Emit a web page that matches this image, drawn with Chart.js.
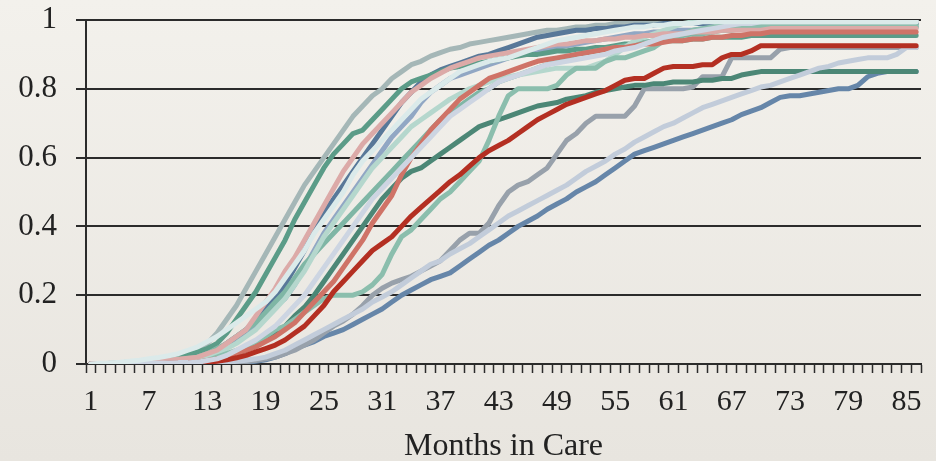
<!DOCTYPE html>
<html>
<head>
<meta charset="utf-8">
<script src="https://cdn.jsdelivr.net/npm/chart.js@4.4.1/dist/chart.umd.min.js"></script>
<style>
html, body { margin: 0; padding: 0; }
body { width: 936px; height: 461px; overflow: hidden; background: linear-gradient(#f3f1ec, #e8e5df); }
#wrap { position: relative; width: 936px; height: 461px; }
</style>
</head>
<body>
<div id="wrap"><canvas id="care"></canvas></div>
<script>
// months in care, one category per month
const months = [1,2,3,4,5,6,7,8,9,10,11,12,13,14,15,16,17,18,19,20,
  21,22,23,24,25,26,27,28,29,30,31,32,33,34,35,36,37,38,39,40,
  41,42,43,44,45,46,47,48,49,50,51,52,53,54,55,56,57,58,59,60,
  61,62,63,64,65,66,67,68,69,70,71,72,73,74,75,76,77,78,79,80,
  81,82,83,84,85,86];
const shownTicks = [1,7,13,19,25,31,37,43,49,55,61,67,73,79,85];
const yTicks = [0, 0.2, 0.4, 0.6, 0.8, 1];
const yTickLabels = ['0', '0.2', '0.4', '0.6', '0.8', '1'];

const lightCyan = [0,0.002,0.003,0.005,0.008,0.011,0.015,0.019,0.024,0.03,
  0.04,0.05,0.065,0.08,0.1,0.12,0.14,0.16,0.18,0.21,
  0.25,0.29,0.33,0.38,0.42,0.46,0.5,0.55,0.59,0.62,
  0.65,0.68,0.71,0.74,0.77,0.79,0.81,0.83,0.85,0.86,
  0.87,0.88,0.885,0.89,0.9,0.91,0.92,0.93,0.94,0.945,
  0.95,0.955,0.96,0.965,0.97,0.975,0.98,0.98,0.985,0.985,
  0.99,0.99,0.99,0.995,0.995,0.995,0.995,0.995,0.995,0.995,
  0.995,0.995,0.995,0.995,0.995,0.995,0.995,0.995,0.995,0.995,
  0.995,0.995,0.995,0.995,0.995,0.995];
const paleBlue = [0,0,0,0,0.001,0.001,0.002,0.003,0.003,0.004,
  0.004,0.005,0.01,0.015,0.025,0.04,0.055,0.07,0.09,0.11,
  0.14,0.17,0.2,0.24,0.28,0.32,0.36,0.4,0.44,0.48,
  0.51,0.54,0.57,0.6,0.63,0.66,0.69,0.72,0.74,0.76,
  0.78,0.8,0.82,0.83,0.84,0.85,0.86,0.87,0.875,0.88,
  0.885,0.89,0.895,0.9,0.91,0.915,0.92,0.93,0.94,0.95,
  0.955,0.96,0.965,0.97,0.975,0.98,0.985,0.99,0.99,0.995,
  0.995,0.995,0.995,0.995,0.995,0.995,0.995,0.995,0.995,0.995,
  0.995,0.995,0.995,0.995,0.995,0.995];
const red = [0,0,0,0,0,0,0.001,0.001,0.002,0.002,
  0.003,0.003,0.005,0.008,0.012,0.018,0.025,0.035,0.045,0.055,
  0.07,0.09,0.11,0.14,0.17,0.21,0.24,0.27,0.3,0.33,
  0.35,0.37,0.4,0.43,0.455,0.48,0.505,0.53,0.55,0.575,
  0.6,0.62,0.635,0.65,0.67,0.69,0.71,0.725,0.74,0.755,
  0.765,0.775,0.785,0.795,0.81,0.825,0.83,0.83,0.845,0.86,
  0.865,0.865,0.865,0.87,0.87,0.89,0.9,0.9,0.91,0.925,
  0.925,0.925,0.925,0.925,0.925,0.925,0.925,0.925,0.925,0.925,
  0.925,0.925,0.925,0.925,0.925,0.925];
const lightSteel = [0,0,0,0,0,0,0,0,0,0,
  0,0,0.001,0.003,0.005,0.008,0.011,0.015,0.02,0.03,
  0.04,0.055,0.07,0.085,0.1,0.115,0.13,0.145,0.16,0.18,
  0.195,0.21,0.23,0.25,0.27,0.29,0.3,0.32,0.335,0.35,
  0.37,0.39,0.41,0.43,0.445,0.46,0.475,0.49,0.505,0.52,
  0.54,0.56,0.575,0.59,0.61,0.625,0.645,0.66,0.675,0.69,
  0.7,0.715,0.73,0.745,0.755,0.765,0.775,0.785,0.795,0.805,
  0.81,0.82,0.83,0.84,0.85,0.86,0.865,0.875,0.88,0.885,
  0.89,0.89,0.89,0.9,0.92,0.92];
const salmon = [0,0,0,0,0,0.001,0.001,0.002,0.002,0.003,
  0.004,0.005,0.01,0.015,0.02,0.03,0.04,0.05,0.065,0.08,
  0.1,0.12,0.15,0.18,0.21,0.24,0.28,0.32,0.36,0.41,
  0.45,0.49,0.55,0.6,0.64,0.68,0.71,0.74,0.77,0.79,
  0.81,0.83,0.84,0.85,0.86,0.87,0.88,0.885,0.89,0.895,
  0.9,0.905,0.91,0.915,0.92,0.92,0.925,0.93,0.93,0.935,
  0.94,0.94,0.945,0.945,0.95,0.95,0.955,0.955,0.96,0.96,
  0.965,0.965,0.965,0.965,0.965,0.965,0.965,0.965,0.965,0.965,
  0.965,0.965,0.965,0.965,0.965,0.965];
const pink = [0,0,0.001,0.002,0.003,0.005,0.007,0.009,0.011,0.014,
  0.017,0.02,0.03,0.04,0.06,0.08,0.1,0.14,0.18,0.22,
  0.27,0.31,0.36,0.41,0.46,0.51,0.56,0.6,0.64,0.67,
  0.7,0.73,0.76,0.79,0.81,0.83,0.845,0.86,0.87,0.88,
  0.89,0.895,0.9,0.905,0.91,0.915,0.92,0.925,0.93,0.93,
  0.935,0.94,0.94,0.945,0.945,0.95,0.95,0.955,0.955,0.96,
  0.96,0.96,0.965,0.965,0.965,0.97,0.97,0.97,0.97,0.97,
  0.975,0.975,0.975,0.975,0.975,0.975,0.975,0.975,0.975,0.975,
  0.975,0.975,0.975,0.975,0.975,0.975];
const lightTeal = [0,0,0,0,0.001,0.001,0.002,0.002,0.003,0.004,
  0.004,0.005,0.01,0.02,0.03,0.04,0.05,0.065,0.08,0.1,
  0.11,0.13,0.15,0.17,0.19,0.2,0.2,0.2,0.21,0.23,
  0.26,0.32,0.37,0.39,0.42,0.45,0.48,0.5,0.53,0.56,
  0.59,0.65,0.72,0.78,0.8,0.8,0.8,0.8,0.81,0.84,
  0.86,0.86,0.86,0.88,0.89,0.89,0.9,0.91,0.92,0.94,
  0.95,0.96,0.97,0.975,0.98,0.985,0.985,0.985,0.985,0.985,
  0.985,0.985,0.985,0.985,0.985,0.985,0.985,0.985,0.985,0.985,
  0.985,0.985,0.985,0.985,0.985,0.985];
const paleTeal = [0,0,0,0.001,0.002,0.003,0.004,0.005,0.006,0.008,
  0.009,0.01,0.02,0.03,0.045,0.06,0.08,0.1,0.13,0.16,
  0.19,0.23,0.27,0.32,0.37,0.41,0.45,0.49,0.53,0.57,
  0.6,0.63,0.66,0.69,0.71,0.73,0.75,0.77,0.785,0.8,
  0.81,0.82,0.83,0.835,0.84,0.845,0.85,0.855,0.86,0.86,
  0.86,0.86,0.87,0.88,0.9,0.92,0.94,0.95,0.96,0.97,
  0.98,0.99,0.995,1,1,1,1,1,1,1,
  1,1,1,1,1,1,1,1,1,1,
  1,1,1,1,1,1];
const midTeal = [0,0,0,0.001,0.002,0.003,0.005,0.007,0.01,0.013,
  0.016,0.02,0.03,0.045,0.06,0.08,0.1,0.12,0.15,0.18,
  0.21,0.25,0.29,0.32,0.35,0.38,0.41,0.44,0.47,0.5,
  0.53,0.56,0.59,0.62,0.65,0.68,0.71,0.73,0.75,0.77,
  0.79,0.8,0.82,0.83,0.84,0.85,0.86,0.87,0.88,0.89,
  0.9,0.905,0.91,0.915,0.92,0.925,0.93,0.935,0.94,0.945,
  0.95,0.955,0.96,0.96,0.965,0.97,0.97,0.975,0.975,0.975,
  0.98,0.98,0.98,0.98,0.98,0.98,0.98,0.98,0.98,0.98,
  0.98,0.98,0.98,0.98,0.98,0.98];
const green = [0,0,0.001,0.003,0.005,0.007,0.01,0.013,0.017,0.022,
  0.028,0.035,0.045,0.06,0.09,0.13,0.17,0.21,0.26,0.31,
  0.36,0.42,0.47,0.52,0.57,0.61,0.64,0.67,0.68,0.71,
  0.74,0.77,0.8,0.82,0.83,0.84,0.85,0.86,0.865,0.87,
  0.875,0.88,0.885,0.89,0.895,0.9,0.9,0.905,0.91,0.91,
  0.915,0.915,0.92,0.92,0.925,0.93,0.93,0.935,0.935,0.94,
  0.94,0.94,0.945,0.945,0.95,0.95,0.95,0.95,0.955,0.955,
  0.955,0.955,0.955,0.955,0.955,0.955,0.955,0.955,0.955,0.955,
  0.955,0.955,0.955,0.955,0.955,0.955];
const navy = [0,0,0.001,0.002,0.003,0.004,0.006,0.008,0.01,0.013,
  0.016,0.02,0.03,0.04,0.06,0.08,0.1,0.13,0.16,0.19,
  0.23,0.28,0.33,0.39,0.44,0.48,0.52,0.56,0.6,0.64,
  0.68,0.72,0.76,0.79,0.82,0.84,0.855,0.865,0.875,0.885,
  0.895,0.9,0.91,0.92,0.93,0.94,0.95,0.955,0.96,0.965,
  0.97,0.97,0.975,0.975,0.98,0.98,0.985,0.985,0.985,0.99,
  0.99,0.99,0.99,0.99,0.99,0.99,0.99,0.99,0.99,0.99,
  0.99,0.99,0.99,0.99,0.99,0.99,0.99,0.99,0.99,0.99,
  0.99,0.99,0.99,0.99,0.99,0.99];
const blueGray = [0,0,0,0.001,0.002,0.003,0.005,0.007,0.009,0.011,
  0.013,0.015,0.025,0.035,0.05,0.07,0.09,0.11,0.14,0.17,
  0.19,0.23,0.28,0.33,0.38,0.42,0.46,0.5,0.54,0.58,
  0.62,0.66,0.69,0.72,0.76,0.79,0.81,0.83,0.84,0.85,
  0.86,0.87,0.88,0.89,0.9,0.905,0.91,0.915,0.92,0.925,
  0.93,0.935,0.94,0.945,0.95,0.955,0.96,0.96,0.965,0.965,
  0.97,0.97,0.97,0.975,0.975,0.975,0.975,0.975,0.98,0.98,
  0.98,0.98,0.98,0.98,0.98,0.98,0.98,0.98,0.98,0.98,
  0.98,0.98,0.98,0.98,0.98,0.98];
const grayGreen = [0,0,0.002,0.004,0.006,0.008,0.011,0.015,0.019,0.025,
  0.032,0.04,0.06,0.09,0.13,0.17,0.22,0.27,0.32,0.37,
  0.42,0.47,0.52,0.56,0.6,0.64,0.68,0.72,0.75,0.78,
  0.8,0.83,0.85,0.87,0.88,0.895,0.905,0.915,0.92,0.93,
  0.935,0.94,0.945,0.95,0.955,0.96,0.965,0.97,0.97,0.975,
  0.98,0.98,0.985,0.985,0.99,0.99,0.99,0.99,0.99,0.99,
  0.99,0.99,0.99,0.99,0.99,0.99,0.99,0.99,0.99,0.99,
  0.99,0.99,0.99,0.99,0.99,0.99,0.99,0.99,0.99,0.99,
  0.99,0.99,0.99,0.99,0.99,0.99];
const darkGreen = [0,0,0,0,0,0.001,0.001,0.002,0.002,0.003,
  0.004,0.005,0.01,0.015,0.02,0.03,0.04,0.055,0.07,0.09,
  0.11,0.14,0.165,0.2,0.24,0.28,0.32,0.36,0.4,0.44,
  0.48,0.51,0.54,0.56,0.57,0.59,0.61,0.63,0.65,0.67,
  0.69,0.7,0.71,0.72,0.73,0.74,0.75,0.755,0.76,0.77,
  0.775,0.78,0.79,0.795,0.8,0.805,0.81,0.81,0.815,0.815,
  0.82,0.82,0.82,0.825,0.825,0.83,0.83,0.84,0.845,0.85,
  0.85,0.85,0.85,0.85,0.85,0.85,0.85,0.85,0.85,0.85,
  0.85,0.85,0.85,0.85,0.85,0.85];
const gray = [0,0,0,0,0,0,0,0,0,0,
  0,0,0.001,0.002,0.003,0.005,0.007,0.01,0.015,0.02,
  0.03,0.04,0.055,0.07,0.09,0.11,0.125,0.145,0.17,0.2,
  0.22,0.235,0.245,0.255,0.27,0.285,0.3,0.33,0.36,0.38,
  0.38,0.41,0.46,0.5,0.52,0.53,0.55,0.57,0.61,0.65,
  0.67,0.7,0.72,0.72,0.72,0.72,0.75,0.8,0.8,0.8,
  0.8,0.8,0.805,0.835,0.835,0.835,0.89,0.89,0.89,0.89,
  0.89,0.915,0.92,0.92,0.92,0.92,0.92,0.92,0.92,0.92,
  0.92,0.92,0.92,0.92,0.92,0.92];
const steelBlue = [0,0,0,0,0,0,0,0,0,0,
  0,0,0,0.001,0.002,0.003,0.005,0.008,0.012,0.02,
  0.03,0.045,0.055,0.065,0.08,0.09,0.1,0.115,0.13,0.145,
  0.16,0.18,0.2,0.215,0.23,0.245,0.255,0.265,0.285,0.305,
  0.325,0.345,0.36,0.38,0.4,0.415,0.43,0.45,0.465,0.48,
  0.5,0.515,0.53,0.55,0.57,0.59,0.61,0.62,0.63,0.64,
  0.65,0.66,0.67,0.68,0.69,0.7,0.71,0.725,0.735,0.745,
  0.76,0.775,0.78,0.78,0.785,0.79,0.795,0.8,0.8,0.81,
  0.835,0.845,0.85,0.85,0.85,0.85];

// first entry is drawn on top
const series = [
  { data: lightCyan,  color: '#dbeaea' },
  { data: paleBlue,   color: '#cdd5e2' },
  { data: red,        color: '#b42f22' },
  { data: lightSteel, color: '#c2ccda' },
  { data: salmon,     color: '#cf7367' },
  { data: pink,       color: '#dcaaa8' },
  { data: lightTeal,  color: '#8bbead' },
  { data: paleTeal,   color: '#b5d7cd' },
  { data: midTeal,    color: '#7fb6a5' },
  { data: green,      color: '#5b9c88' },
  { data: navy,       color: '#587899' },
  { data: blueGray,   color: '#91a7c4' },
  { data: grayGreen,  color: '#a5b7b7' },
  { data: darkGreen,  color: '#4c8776' },
  { data: gray,       color: '#98a1ab' },
  { data: steelBlue,  color: '#6686a9' }
];

const ink = '#222222';
const serif = 'Liberation Serif';

new Chart(document.getElementById('care'), {
  type: 'line',
  data: {
    labels: months,
    datasets: series.map(s => ({
      data: s.data,
      borderColor: s.color,
      borderWidth: 5,
      borderCapStyle: 'round',
      borderJoinStyle: 'round',
      pointRadius: 0,
      tension: 0,
      fill: false
    }))
  },
  options: {
    responsive: true,
    maintainAspectRatio: false,
    animation: false,
    devicePixelRatio: 1,
    layout: { padding: { top: 20, right: 15, left: 0, bottom: 0 } },
    plugins: { legend: { display: false }, tooltip: { enabled: false } },
    scales: {
      x: {
        type: 'category',
        offset: true,
        grid: { display: true, offset: true, drawOnChartArea: false, drawTicks: true,
          tickLength: 9, tickColor: '#2b2b2b', tickWidth: 1.5 },
        border: { display: true, color: '#2b2b2b', width: 2 },
        ticks: {
          autoSkip: false, maxRotation: 0, minRotation: 0, padding: 11,
          color: ink, font: { family: serif, size: 30 },
          callback: function(v, i) {
            return shownTicks.includes(months[i]) ? String(months[i]) : '';
          }
        },
        title: { display: true, text: 'Months in Care', color: ink,
          font: { family: serif, size: 32 }, padding: { top: 2, bottom: -5 } },
        afterFit: s => { s.height = 97; s.paddingLeft = 0; s.paddingRight = 0; }
      },
      y: {
        min: 0, max: 1,
        afterBuildTicks: s => { s.ticks = yTicks.map(v => ({ value: v })); },
        ticks: {
          padding: 19, color: ink, font: { family: serif, size: 31 },
          callback: (v, i) => yTickLabels[i]
        },
        grid: { color: '#2b2b2b', lineWidth: 2, tickLength: 10, drawTicks: true },
        border: { display: true, color: '#2b2b2b', width: 2 },
        afterFit: s => { s.width = 86; s.paddingTop = 0; s.paddingBottom = 0; }
      }
    }
  }
});
</script>
</body>
</html>
